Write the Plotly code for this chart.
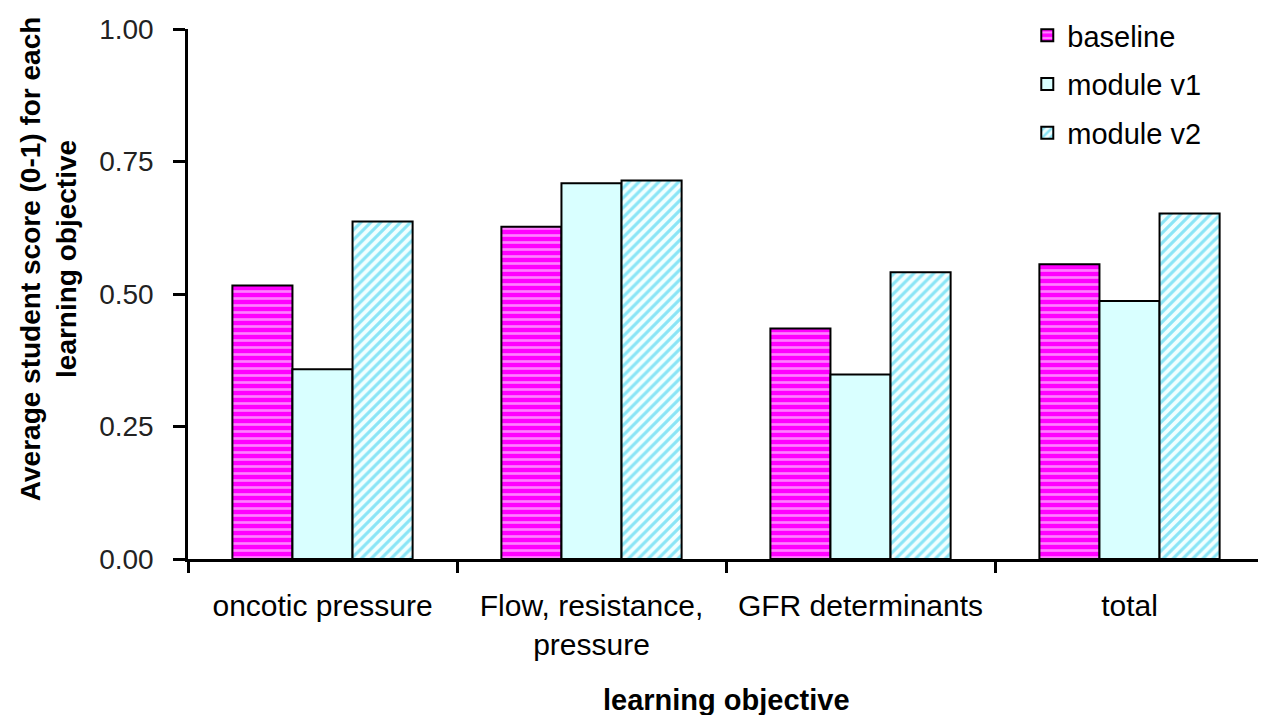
import plotly.graph_objects as go

categories = ["oncotic pressure", "Flow, resistance,<br>pressure", "GFR determinants", "total"]
baseline = [0.516, 0.627, 0.435, 0.556]
module_v1 = [0.358, 0.709, 0.348, 0.487]
module_v2 = [0.637, 0.714, 0.541, 0.652]
y_ticks = [0.0, 0.25, 0.5, 0.75, 1.0]

FONT = "Liberation Sans, Arial, sans-serif"

fig = go.Figure()
fig.add_trace(go.Bar(
    name="baseline", x=categories, y=baseline, legendgroup="a",
    marker=dict(color="#FF00FF", line=dict(color="black", width=2),
                pattern=dict(shape="-", fgcolor="#FFFFFF", bgcolor="#FF00FF",
                             size=7, solidity=0.38, fillmode="overlay")),
))
fig.add_trace(go.Bar(
    name="module v1", x=categories, y=module_v1, legendgroup="b",
    marker=dict(color="#D9FFFF", line=dict(color="black", width=2)),
))
fig.add_trace(go.Bar(
    name="module v2", x=categories, y=module_v2, legendgroup="c",
    marker=dict(color="#F2FFFF", line=dict(color="black", width=2),
                pattern=dict(shape="/", fgcolor="#22CCEE", bgcolor="#F2FFFF",
                             size=7, solidity=0.45, fillmode="overlay")),
))

fig.update_layout(
    width=1258, height=707,
    margin=dict(l=180, r=2, t=13, b=156),
    paper_bgcolor="white", plot_bgcolor="white",
    barmode="group", bargap=0.33, bargroupgap=0,
    font=dict(family=FONT, color="black"),
    showlegend=True,
    legend=dict(x=0.780, xanchor="left", y=1.036, yanchor="top",
                font=dict(size=29, family=FONT, color="black"),
                traceorder="grouped", tracegroupgap=8,
                bgcolor="rgba(0,0,0,0)"),
)
fig.update_xaxes(
    type="category", showline=True, linecolor="black", linewidth=2.5,
    ticks="outside", ticklen=11, tickwidth=2.5, tickcolor="black",
    tickson="boundaries", showgrid=False, zeroline=False,
    tickfont=dict(size=30, family=FONT, color="black"),
    ticklabelstandoff=18,
)
fig.update_yaxes(
    range=[0, 1], tickvals=y_ticks, tickformat=".2f",
    showline=True, linecolor="black", linewidth=2.5,
    ticks="outside", ticklen=12, tickwidth=2.5, tickcolor="black",
    showgrid=False, zeroline=False,
    tickfont=dict(size=28, family=FONT, color="#222222"),
    ticklabelstandoff=14,
)

fig.add_annotation(
    text="<b>Average student score (0-1) for each<br>learning objective</b>",
    xref="paper", yref="paper", x=-0.13, y=0.566,
    xanchor="center", yanchor="middle", textangle=-90, showarrow=False,
    font=dict(size=28, family=FONT, color="black"),
)
fig.add_annotation(
    text="<b>learning objective</b>",
    xref="paper", yref="paper", x=0.5, y=-0.266,
    xanchor="center", yanchor="middle", showarrow=False,
    font=dict(size=29, family=FONT, color="black"),
)

fig.write_html("out.html")
